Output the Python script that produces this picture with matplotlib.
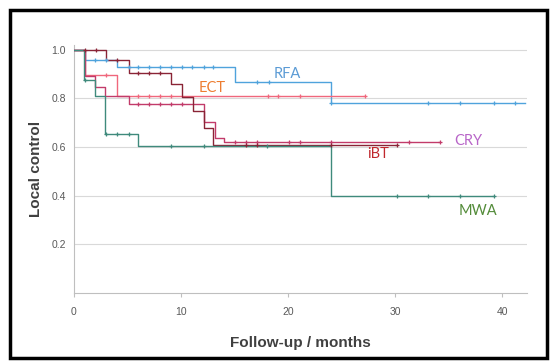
import matplotlib
matplotlib.use("Agg")
import matplotlib.pyplot as plt
from matplotlib.patches import Rectangle

plt.rcParams['font.family'] = ['Liberation Sans', 'DejaVu Sans']

# Kaplan-Meier steps: event times (months) and survival after each step
rfa_t = [0, 1.0, 4.0, 15.0, 24.0]
rfa_s = [1.0, 0.959, 0.931, 0.866, 0.78]
rfa_end = 42.1
rfa_cens = [2.0, 3.0, 5.1, 6.0, 7.0, 8.0, 9.1, 10.1, 11.0, 12.1, 13.0, 17.1, 18.2, 24.0, 33.1, 36.1, 39.2, 41.2]

ect_t = [0, 1.0, 4.0]
ect_s = [1.0, 0.896, 0.81]
ect_end = 27.2
ect_cens = [3.0, 6.0, 7.0, 8.0, 9.1, 18.1, 19.1, 21.1, 27.2]

cry_t = [0, 1.0, 2.0, 2.9, 5.1, 12.1, 13.2, 14.0]
cry_s = [1.0, 0.894, 0.847, 0.812, 0.779, 0.705, 0.637, 0.622]
cry_end = 34.2
cry_cens = [6.0, 7.0, 8.0, 9.1, 10.1, 15.0, 16.1, 17.1, 20.1, 21.1, 24.0, 31.3, 34.2]

ibt_t = [0, 3.0, 5.1, 9.1, 10.1, 11.1, 12.1, 13.0]
ibt_s = [1.0, 0.958, 0.905, 0.86, 0.805, 0.748, 0.679, 0.608]
ibt_end = 30.2
ibt_cens = [1.0, 2.1, 4.0, 6.0, 7.0, 8.0, 16.1, 17.1, 24.0, 30.2]

mwa_t = [0, 0.9, 2.0, 2.9, 6.0, 24.0]
mwa_s = [1.0, 0.876, 0.81, 0.655, 0.604, 0.40]
mwa_end = 39.2
mwa_cens = [1.0, 3.0, 4.0, 5.1, 9.1, 12.1, 18.0, 30.2, 33.1, 36.1, 39.2]

curves = [
    ("RFA", rfa_t, rfa_s, rfa_end, rfa_cens, "#4fa3dc", "#5b9bd5", (19.9, 0.90)),
    ("ECT", ect_t, ect_s, ect_end, ect_cens, "#f0677c", "#ed7d31", (12.9, 0.845)),
    ("CRY", cry_t, cry_s, cry_end, cry_cens, "#c23b6a", "#b865c8", (36.8, 0.625)),
    ("iBT", ibt_t, ibt_s, ibt_end, ibt_cens, "#8a2436", "#c0282d", (28.4, 0.572)),
    ("MWA", mwa_t, mwa_s, mwa_end, mwa_cens, "#3f8a7c", "#548c3a", (37.7, 0.337)),
]


def surv_at(t, times, surv):
    val = surv[0]
    for ti, si in zip(times, surv):
        if t >= ti:
            val = si
    return val


fig = plt.figure(figsize=(5.58, 3.63), dpi=100)
ax = fig.add_axes([0.1326, 0.193, 0.8114, 0.683])

for name, t, s, end, cens, lc, tc, pos in curves:
    xs = list(t) + [end]
    ys = list(s) + [s[-1]]
    ax.step(xs, ys, where="post", color=lc, lw=1.0, zorder=3)
    cy = [surv_at(c, t, s) for c in cens]
    ax.plot(cens, cy, ls="none", marker="+", ms=3.5, mew=0.9, color=lc, zorder=4)
    ax.text(pos[0], pos[1], name, color=tc, fontsize=10.5, family=["Lato", "DejaVu Sans"],
            ha="center", va="center")

ax.set_xlim(0, 42.3)
ax.set_ylim(0, 1.02)
ax.set_xticks([0, 10, 20, 30, 40])
ax.set_yticks([0.2, 0.4, 0.6, 0.8, 1.0])
ax.set_yticklabels(["0.2", "0.4", "0.6", "0.8", "1.0"])
ax.grid(axis="y", color="#d9d9d9", lw=0.8)
ax.set_axisbelow(True)

for side in ["top", "right"]:
    ax.spines[side].set_visible(False)
for side in ["left", "bottom"]:
    ax.spines[side].set_color("#bfbfbf")
    ax.spines[side].set_linewidth(0.8)

ax.tick_params(axis="x", length=3, color="#bfbfbf", labelsize=7.5, labelcolor="#595959", pad=7)
ax.tick_params(axis="y", length=0, labelsize=7.5, labelcolor="#595959", pad=6)

ax.set_xlabel("Follow-up / months", fontsize=11, fontweight="bold", color="#404040", labelpad=14)
ax.set_ylabel("Local control", fontsize=11, fontweight="bold", color="#404040", labelpad=6)

# black frame around the whole picture
fig.patches.append(Rectangle((0.018, 0.014), 0.962, 0.958, transform=fig.transFigure,
                             fill=False, ec="black", lw=2.5))

fig.savefig("out.png", dpi=100)
